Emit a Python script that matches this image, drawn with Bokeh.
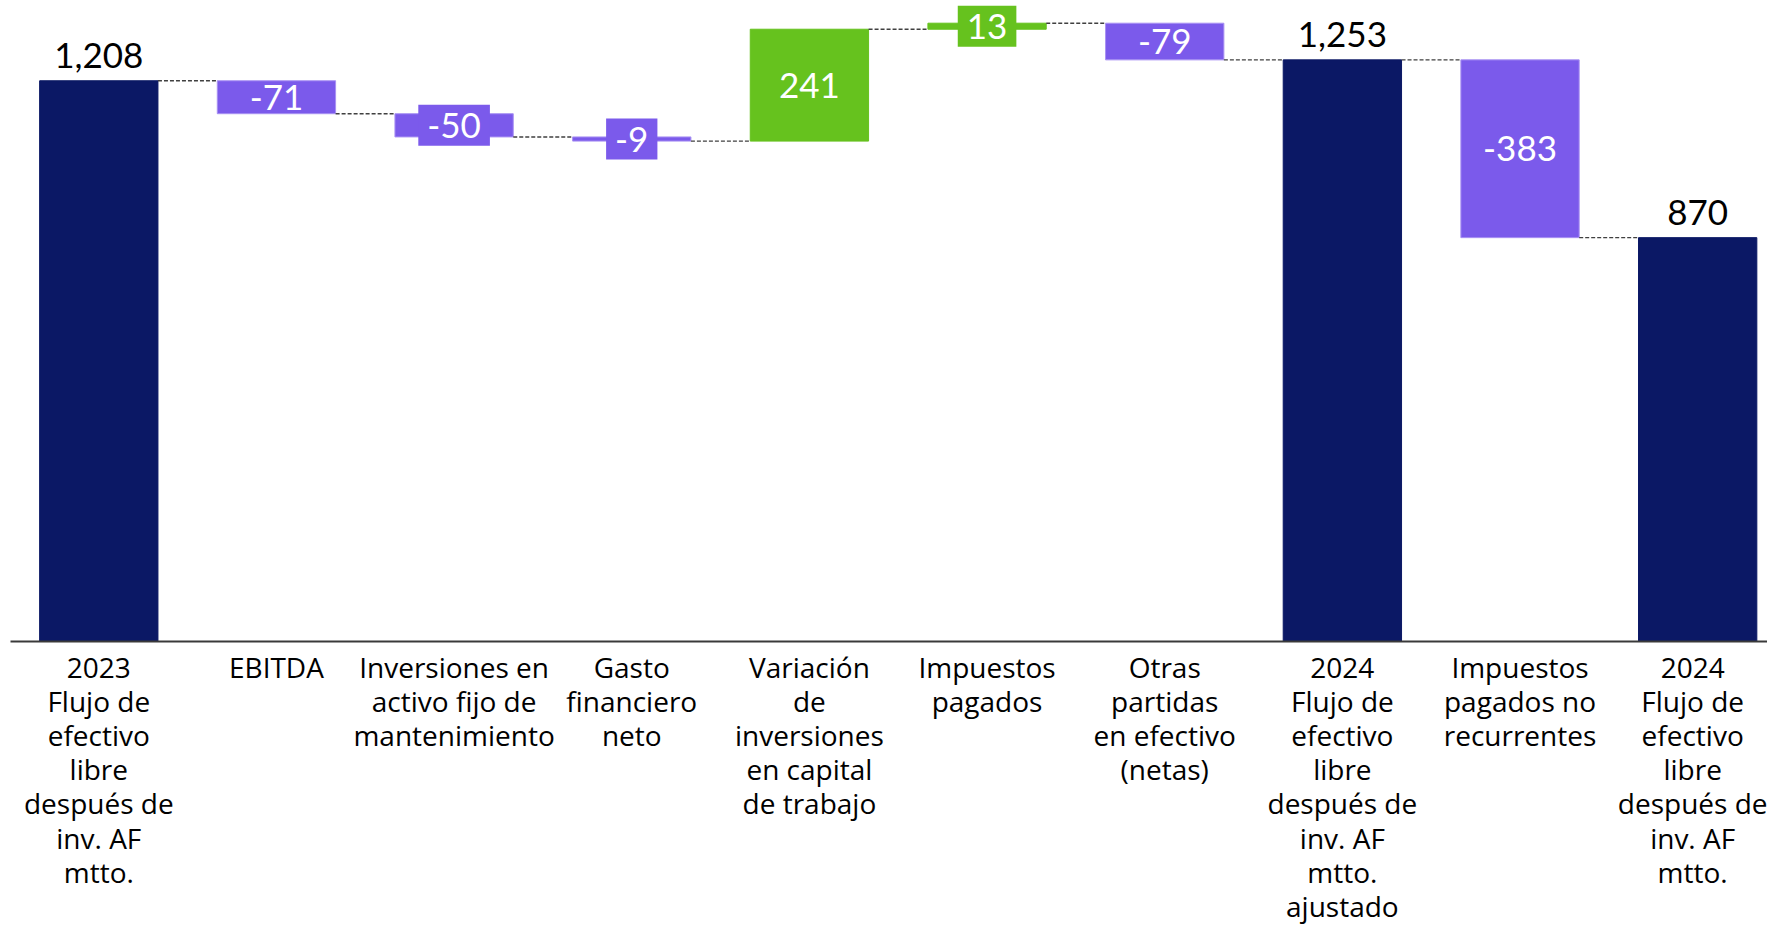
from bokeh.plotting import figure
from bokeh.models import ColumnDataSource, Range1d, FixedTicker, LabelSet
from bokeh.core.properties import value
from bokeh.embed import file_html
from bokeh.resources import INLINE

categories = [
    "2023\nFlujo de\nefectivo\nlibre\ndespués de\ninv. AF\nmtto.",
    "EBITDA",
    "Inversiones en\nactivo fijo de\nmantenimiento",
    "Gasto\nfinanciero\nneto",
    "Variación\nde\ninversiones\nen capital\nde trabajo",
    "Impuestos\npagados",
    "Otras\npartidas\nen efectivo\n(netas)",
    "2024\nFlujo de\nefectivo\nlibre\ndespués de\ninv. AF\nmtto.\najustado",
    "Impuestos\npagados no\nrecurrentes",
    "2024\nFlujo de\nefectivo\nlibre\ndespués de\ninv. AF\nmtto.",
]
values = [1208, -71, -50, -9, 241, 13, -79, 1253, -383, 870]
kinds = ["total", "delta", "delta", "delta", "delta", "delta", "delta", "total", "delta", "total"]

NAVY = "#0B1865"
PURPLE = "#7B5AEB"
GREEN = "#66C21E"
VFONT = "Lato"
AFONT = "Open Sans"

xs = list(range(len(values)))
bottoms, tops, colors, lines = [], [], [], []
level = 0
for v, k in zip(values, kinds):
    if k == "total":
        b, t = 0, v
        level = v
        colors.append(NAVY)
        lines.append(NAVY)
    else:
        b, t = min(level, level + v), max(level, level + v)
        level = level + v
        colors.append(GREEN if v > 0 else PURPLE)
        lines.append("#A891F3" if v < 0 else GREEN)
    bottoms.append(b)
    tops.append(t)

W = 0.666
YMAX = 1380.9
p = figure(width=1767, height=928, output_backend="svg", toolbar_location=None,
           x_range=Range1d(-0.497, 9.393), y_range=Range1d(0, YMAX),
           min_border_left=10, min_border_right=0, min_border_top=0, min_border_bottom=287,
           outline_line_color=None, y_axis_location=None)
p.grid.visible = False
p.background_fill_color = "white"
p.border_fill_color = "white"

src = ColumnDataSource(dict(x=xs, bottom=bottoms, top=tops, color=colors, line=lines))
p.vbar(x="x", width=W, bottom="bottom", top="top", fill_color="color", line_color="line",
       line_width=1, source=src)

# connectors
levels_after = []
lvl = 0
for v, k in zip(values, kinds):
    lvl = v if k == "total" else lvl + v
    levels_after.append(lvl)
cx0 = [i + W / 2 for i in xs[:-1]]
cx1 = [i + 1 - W / 2 for i in xs[:-1]]
cy = levels_after[:-1]
p.segment(x0=cx0, y0=cy, x1=cx1, y1=cy, line_color="#404040", line_width=1.4, line_dash="4 2")

# total labels
tsrc = ColumnDataSource(dict(
    x=[i for i, k in zip(xs, kinds) if k == "total"],
    y=[t for t, k in zip(tops, kinds) if k == "total"],
    text=[f"{v:,}" for v, k in zip(values, kinds) if k == "total"],
))
p.add_layout(LabelSet(x="x", y="y", text="text", source=tsrc, text_font=value(VFONT),
                      text_font_size="35px", text_color="black", text_align="center",
                      text_baseline="alphabetic", y_offset=13))

# delta labels: big bars (plain) and small bars (boxed)
scale = 641 / YMAX
big_x, big_y, big_t, sm_x, sm_y, sm_t, sm_c = [], [], [], [], [], [], []
for i, (v, k) in enumerate(zip(values, kinds)):
    if k != "delta":
        continue
    mid = (bottoms[i] + tops[i]) / 2
    if abs(v) * scale >= 30:
        big_x.append(i); big_y.append(mid); big_t.append(str(v))
    else:
        sm_x.append(i); sm_y.append(mid); sm_t.append(str(v)); sm_c.append(colors[i])
p.text(x=big_x, y=big_y, text=big_t, text_font=value(VFONT), text_font_size="35px",
       text_color="white", text_align="center", text_baseline="middle")
ssrc = ColumnDataSource(dict(x=sm_x, y=sm_y, text=sm_t, bg=sm_c))
p.text(x="x", y="y", text="text", source=ssrc, text_font=value(VFONT), text_font_size="35px",
       text_color="white", text_align="center", text_baseline="middle",
       background_fill_color="bg", padding=dict(left=9, right=9, top=8, bottom=8))

ax = p.xaxis[0]
ax.ticker = FixedTicker(ticks=xs)
ax.major_label_overrides = {i: c for i, c in enumerate(categories)}
ax.major_label_text_font = AFONT
ax.major_label_text_font_size = "28px"
ax.major_label_text_color = "black"
ax.major_label_text_line_height = 0.9
ax.major_label_standoff = 0
ax.major_tick_line_color = None
ax.minor_tick_line_color = None
ax.axis_line_color = "#3a3a3a"
ax.axis_line_width = 2

open("out.html", "w").write(file_html(p, INLINE))
